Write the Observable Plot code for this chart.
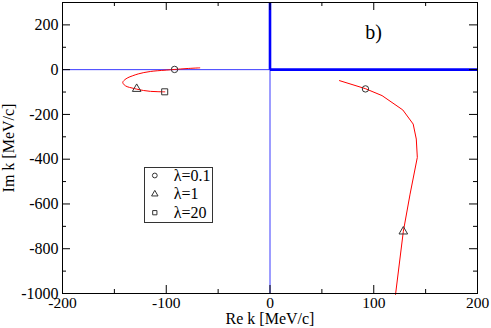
<!DOCTYPE html>
<html>
<head>
<meta charset="utf-8">
<script src="https://cdn.jsdelivr.net/npm/d3@7"></script>
<script src="https://cdn.jsdelivr.net/npm/@observablehq/plot@0.6"></script>
<style>
  html, body { margin: 0; padding: 0; background: #fff; }
  #chart svg, #chart svg text { font-family: "Liberation Serif", "Times New Roman", serif !important; }
</style>
</head>
<body>
<div id="chart"></div>
<script>
// ---- data ----
const leftRe  = [-67.7, -80, -91.8, -100, -108.7, -115, -121.6, -127, -132.8, -137, -140.2, -141.9, -140.5, -137.7, -133, -128.4, -122, -115.2, -108, -101.4];
const leftIm  = [8, 5, 1, -2, -5, -8, -13, -19, -28, -36, -46, -57, -68, -76, -82, -87, -93, -97, -98.5, -99];
const rightRe = [67, 92, 108, 128, 138, 141, 142, 135, 128.5, 121];
const rightIm = [-49, -85, -116, -180, -243, -310, -392, -556, -723, -1004];

const circleRe = [-92, 92];
const circleIm = [1, -86];
const triangleRe = [-128.5, 128.5];
const triangleIm = [-86, -723];
const squareRe = [-101.5];
const squareIm = [-99];

// branch-cut lines: [x1, y1, x2, y2]
const thinLines  = [[-200, 0, 0, 0], [0, -1000, 0, 0]];
const thickLines = [[0, 0, 0, 300], [0, 0, 200, 0]];

const xDomain = [-200, 200];
const yDomain = [-1000, 300];
const xMajor = [-200, -100, 0, 100, 200];
const xMinor = [-150, -50, 50, 150];
const yMajor = [-1000, -800, -600, -400, -200, 0, 200];
const yMinor = [-900, -700, -500, -300, -100, 100];

const legendLabels = ["λ=0.1", "λ=1", "λ=20"];
const legendSymbols = ["circle", "triangle", "square"];

const xTitle = "Re k [MeV/c]";
const yTitle = "Im k [MeV/c]";
const panelLabel = "b)";

// ---- build ----
const toPts = (xs, ys) => xs.map((x, i) => ({x, y: ys[i]}));
const left = toPts(leftRe, leftIm);
const right = toPts(rightRe, rightIm);
const circles = toPts(circleRe, circleIm);
const triangles = toPts(triangleRe, triangleIm);
const squares = toPts(squareRe, squareIm);

const seg = (arr) => arr.map(([x1, y1, x2, y2]) => ({x1, y1, x2, y2}));

const font = "Liberation Serif, Times New Roman, serif";
const markerStroke = "#333";
const majorLen = 8, minorLen = 4;
const fmt = d => String(d);

function xTicks(values, len) {
  return [
    Plot.ruleX(values, {x: d => d, y1: yDomain[0], y2: yDomain[0], insetBottom: len, stroke: "black", strokeWidth: 1}),
    Plot.ruleX(values, {x: d => d, y1: yDomain[1], y2: yDomain[1], insetTop: len, stroke: "black", strokeWidth: 1})
  ];
}
function yTicks(values, len) {
  return [
    Plot.ruleY(values, {y: d => d, x1: xDomain[0], x2: xDomain[0], insetRight: -len, stroke: "black", strokeWidth: 1}),
    Plot.ruleY(values, {y: d => d, x1: xDomain[1], x2: xDomain[1], insetLeft: -len, stroke: "black", strokeWidth: 1})
  ];
}

const legendMarks = [];
legendLabels.forEach((lab, i) => {
  const dy = 173 + i * 18.6;
  legendMarks.push(Plot.dot([lab], {frameAnchor: "top-left", dx: 92.3, dy, symbol: legendSymbols[i], r: 2.4, stroke: markerStroke, strokeWidth: 1, fill: "none"}));
  legendMarks.push(Plot.text([lab], {frameAnchor: "top-left", lineAnchor: "middle", dx: 111.3, dy, text: d => d, textAnchor: "start", fontSize: 16, fontFamily: font, fill: "black"}));
});

const chart = Plot.plot({
  width: 491,
  height: 328,
  marginLeft: 62,
  marginRight: 14,
  marginTop: 2,
  marginBottom: 35,
  style: {fontFamily: font, fontSize: "16px", background: "white", color: "black", overflow: "visible"},
  x: {domain: xDomain},
  y: {domain: yDomain},
  marks: [
    Plot.link(seg(thinLines), {x1: "x1", y1: "y1", x2: "x2", y2: "y2", stroke: "#3a3aff", strokeWidth: 1}),
    Plot.line(left, {x: "x", y: "y", stroke: "#ff0000", strokeWidth: 1, curve: "catmull-rom"}),
    Plot.line(right, {x: "x", y: "y", stroke: "#ff0000", strokeWidth: 1}),
    Plot.link(seg(thickLines), {x1: "x1", y1: "y1", x2: "x2", y2: "y2", stroke: "#0000ff", strokeWidth: 2.6}),
    Plot.dot(circles, {x: "x", y: "y", symbol: "circle", r: 3.2, stroke: markerStroke, strokeWidth: 1, fill: "none"}),
    Plot.dot(triangles, {x: "x", y: "y", symbol: "triangle", r: 3.2, stroke: markerStroke, strokeWidth: 1, fill: "none"}),
    Plot.dot(squares, {x: "x", y: "y", symbol: "square", r: 3.4, stroke: markerStroke, strokeWidth: 1, fill: "none"}),
    ...xTicks(xMajor, majorLen),
    ...xTicks(xMinor, minorLen),
    ...yTicks(yMajor, majorLen),
    ...yTicks(yMinor, minorLen),
    Plot.axisX({ticks: xMajor, tickFormat: fmt, tickSize: 0, tickPadding: 3, label: null, fontSize: 15.5, fontFamily: font}),
    Plot.axisY({ticks: yMajor, tickFormat: fmt, tickSize: 0, tickPadding: 4, label: null, fontSize: 16, fontFamily: font}),
    Plot.frame({stroke: "black", strokeWidth: 1}),
    Plot.text([xTitle], {frameAnchor: "bottom", lineAnchor: "middle", textAnchor: "middle", dy: 25, text: d => d, fontSize: 16, fontFamily: font, fill: "black"}),
    Plot.text([yTitle], {frameAnchor: "left", lineAnchor: "middle", textAnchor: "middle", dx: -54, rotate: -90, text: d => d, fontSize: 16, fontFamily: font, fill: "black"}),
    Plot.text([panelLabel], {frameAnchor: "top-left", lineAnchor: "middle", textAnchor: "middle", dx: 311, dy: 29.6, text: d => d, fontSize: 20, fontFamily: font, fill: "black"}),
    Plot.frame({insetLeft: 82, insetRight: 265, insetTop: 165, insetBottom: 71, stroke: "#333", strokeWidth: 1}),
    ...legendMarks
  ]
});
document.getElementById("chart").appendChild(chart);
</script>
</body>
</html>
